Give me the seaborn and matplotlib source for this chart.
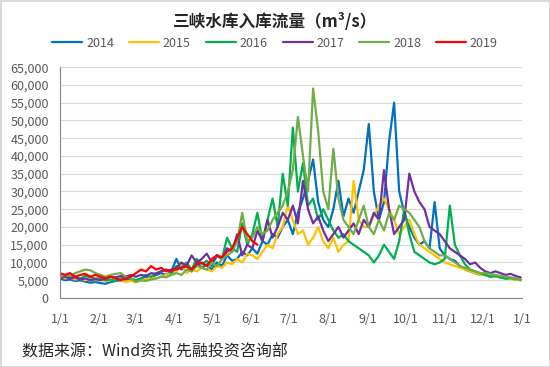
import pandas as pd
import numpy as np
import seaborn as sns
import matplotlib.pyplot as plt
import matplotlib.dates as mdates
from matplotlib.ticker import FuncFormatter

# inflow readings, thousand m3/s, one every 4 days starting 1/1
years = ["2014", "2015", "2016", "2017", "2018", "2019"]
colors = ["#0070C0", "#FFC000", "#00B050", "#7030A0", "#70AD47", "#FF0000"]

flow_2014 = [5.5, 5.0, 5.2, 4.8, 5.0, 4.6, 4.3, 4.5,
             4.2, 4.0, 4.5, 4.8, 5.0, 5.2, 5.5,
             5.0, 5.5, 6.0, 5.8, 6.5, 7.0, 6.5, 7.5,
             11.0, 8.0, 9.0, 7.5, 10.0, 8.5, 9.5,
             8.0, 10.0, 9.0, 12.0, 10.5, 11.0, 13.0, 12.0,
             14.0, 12.5, 16.0, 15.0, 18.0, 17.0, 20.0, 22.0,
             18.0, 24.0, 28.0, 33.0, 39.0, 27.0, 22.0,
             20.0, 25.0, 33.0, 23.0, 28.0, 24.0, 30.0, 36.0,
             49.0, 30.0, 22.0, 27.0, 44.0, 55.0, 30.0, 24.0,
             20.0, 17.0, 15.0, 16.0, 14.0, 27.0, 14.0,
             12.0, 11.0, 10.5, 9.0, 8.0, 7.5, 7.0, 6.5,
             6.5, 6.0, 6.2, 5.8, 5.5, 5.6, 5.2, 5.0]
flow_2015 = [6.0, 5.5, 5.8, 5.2, 5.5, 5.0, 5.3, 5.0,
             5.2, 4.8, 5.0, 5.5, 5.0, 4.5, 4.8,
             4.5, 5.0, 5.2, 5.8, 5.5, 6.0, 6.5, 7.0,
             7.5, 9.5, 7.0, 8.0, 7.5, 8.5, 8.0,
             7.5, 9.0, 8.5, 10.0, 9.5, 11.0, 10.0, 12.5,
             12.0, 11.0, 13.0, 15.0, 14.0, 18.0, 20.0, 26.0,
             22.0, 18.0, 19.0, 15.0, 17.0, 20.0, 16.0,
             14.0, 17.0, 13.0, 15.0, 16.0, 33.0, 22.0, 20.0,
             20.0, 23.0, 26.0, 28.0, 25.0, 22.0, 18.0, 20.0,
             22.0, 18.0, 15.0, 14.0, 13.0, 12.0, 11.0,
             10.0, 9.5, 9.0, 8.5, 8.0, 7.5, 7.0, 6.5,
             6.5, 6.2, 6.0, 5.8, 5.6, 5.4, 5.2, 5.0]
flow_2016 = [6.0, 6.5, 5.8, 6.0, 5.5, 6.2, 5.8, 5.5,
             5.5, 5.0, 5.2, 4.8, 5.5, 6.0, 5.5,
             5.0, 5.5, 6.5, 6.0, 7.0, 7.5, 8.0, 7.0,
             9.0, 8.5, 10.0, 8.0, 11.0, 9.5, 10.5,
             9.0, 12.0, 11.0, 17.0, 14.0, 13.0, 21.0, 15.0,
             18.0, 24.0, 16.0, 22.0, 28.0, 20.0, 35.0, 26.0,
             48.0, 30.0, 38.0, 26.0, 28.0, 22.0, 25.0,
             22.0, 19.0, 17.0, 18.0, 16.0, 15.0, 14.0, 13.0,
             12.0, 10.0, 12.0, 15.0, 13.0, 11.0, 16.0, 25.0,
             18.0, 13.0, 12.0, 11.0, 10.0, 9.5, 10.0,
             11.0, 26.0, 15.0, 12.0, 9.5, 8.0, 7.5, 7.0,
             6.5, 6.0, 6.2, 5.8, 5.5, 5.6, 5.4, 5.2]
flow_2017 = [5.5, 6.0, 5.5, 5.8, 5.2, 5.5, 5.0, 5.3,
             5.0, 5.5, 6.0, 5.8, 6.2, 6.0, 6.5,
             6.0, 6.5, 6.2, 7.0, 6.8, 7.5, 8.0, 7.5,
             8.5, 10.0, 9.0, 12.0, 10.0, 11.0, 12.5,
             10.0, 12.0, 11.0, 14.0, 13.0, 18.0, 12.0, 15.0,
             14.0, 19.0, 16.0, 22.0, 17.0, 20.0, 24.0, 22.0,
             26.0, 21.0, 33.0, 25.0, 21.0, 23.0, 19.0,
             16.0, 18.0, 20.0, 17.0, 19.0, 21.0, 18.0, 22.0,
             20.0, 24.0, 22.0, 36.0, 25.0, 18.0, 20.0, 22.0,
             35.0, 30.0, 27.0, 25.0, 20.0, 19.0, 18.0,
             16.0, 14.0, 13.0, 12.0, 11.0, 9.5, 10.0, 8.5,
             7.5, 7.0, 7.5, 7.0, 6.5, 6.8, 6.2, 5.8]
flow_2018 = [6.0, 6.5, 6.2, 7.0, 7.5, 8.0, 7.8, 7.0,
             6.5, 6.0, 6.5, 6.8, 7.0, 6.0, 5.5,
             4.5, 5.0, 4.8, 5.2, 5.5, 6.0, 5.8, 6.5,
             7.0, 6.5, 8.0, 7.5, 9.0, 8.5, 8.0,
             10.0, 9.0, 11.0, 12.0, 13.0, 16.0, 24.0, 16.0,
             17.0, 20.0, 18.0, 19.0, 22.0, 24.0, 26.0, 30.0,
             36.0, 51.0, 40.0, 30.0, 59.0, 47.0, 30.0,
             25.0, 42.0, 28.0, 22.0, 20.0, 18.0, 22.0, 26.0,
             20.0, 18.0, 22.0, 19.0, 24.0, 22.0, 26.0, 25.0,
             24.0, 22.0, 20.0, 16.0, 14.0, 13.0, 12.0,
             12.0, 11.0, 10.0, 9.0, 8.5, 8.0, 7.5, 7.0,
             7.0, 6.8, 6.5, 6.2, 6.0, 5.8, 5.5, 5.2]
flow_2019 = [7.0, 6.5, 7.0, 6.0, 6.5, 6.8, 6.0, 6.5,
             6.0, 5.5, 6.0, 5.5, 5.0, 5.5, 6.0,
             7.0, 8.0, 7.5, 9.0, 8.0, 8.5, 7.5, 8.0,
             8.0, 8.5, 9.0, 8.0, 9.5, 10.0, 9.0,
             11.0, 12.0, 11.5, 13.0, 14.0, 17.0, 20.0, 18.0,
             16.0, 15.0]

all_flows = [flow_2014, flow_2015, flow_2016, flow_2017, flow_2018, flow_2019]
dates = pd.date_range("2019-01-01", periods=92, freq="4D")

rows = []
for yr, vals in zip(years, all_flows):
    for d, v in zip(dates, vals):
        rows.append({"date": d, "flow": v * 1000, "year": yr})
df = pd.DataFrame(rows)

sns.set_style("white")
plt.rcParams["font.family"] = ["Noto Sans CJK SC", "DejaVu Sans"]

fig = plt.figure(figsize=(5.5, 3.67), dpi=100, edgecolor="#d9d9d9", linewidth=2)
ax = fig.add_axes([0.109, 0.188, 0.84, 0.629])

sns.lineplot(data=df, x="date", y="flow", hue="year", palette=colors,
             linewidth=1.6, ax=ax, legend=True)

ax.set_xlim(pd.Timestamp("2019-01-01"), pd.Timestamp("2020-01-01"))
ax.set_ylim(0, 65000)
ax.set_yticks(np.arange(0, 65001, 5000))
ax.yaxis.set_major_formatter(FuncFormatter(lambda v, p: f"{v:,.0f}"))
ax.xaxis.set_major_locator(mdates.MonthLocator())
ax.xaxis.set_major_formatter(mdates.DateFormatter("%-m/%-d"))
ax.set_xlabel("")
ax.set_ylabel("")

ax.grid(axis="y", color="#d9d9d9", linewidth=0.8)
ax.set_axisbelow(True)
for s in ["top", "right"]:
    ax.spines[s].set_visible(False)
for s in ["left", "bottom"]:
    ax.spines[s].set_color("#868686")
ax.tick_params(axis="both", direction="out", length=4, width=0.8, color="#868686",
               labelsize=9, labelcolor="#595959", pad=4)
ax.tick_params(axis="x", pad=7)

handles, labels = ax.get_legend_handles_labels()
ax.get_legend().remove()
fig.legend(handles, labels, loc="center", bbox_to_anchor=(0.5, 0.882), ncol=6,
           frameon=False, fontsize=9, handlelength=2.4, handletextpad=0.3,
           columnspacing=1.2, labelcolor="#595959")

fig.text(0.5, 0.94, "三峡水库入库流量（m³/s）", ha="center", va="center",
         fontsize=12, fontweight="bold", color="#262626")
fig.text(0.04, 0.04, "数据来源：Wind资讯 先融投资咨询部", ha="left", va="center",
         fontsize=11.5, color="#262626")

fig.savefig("out.png", dpi=100)
